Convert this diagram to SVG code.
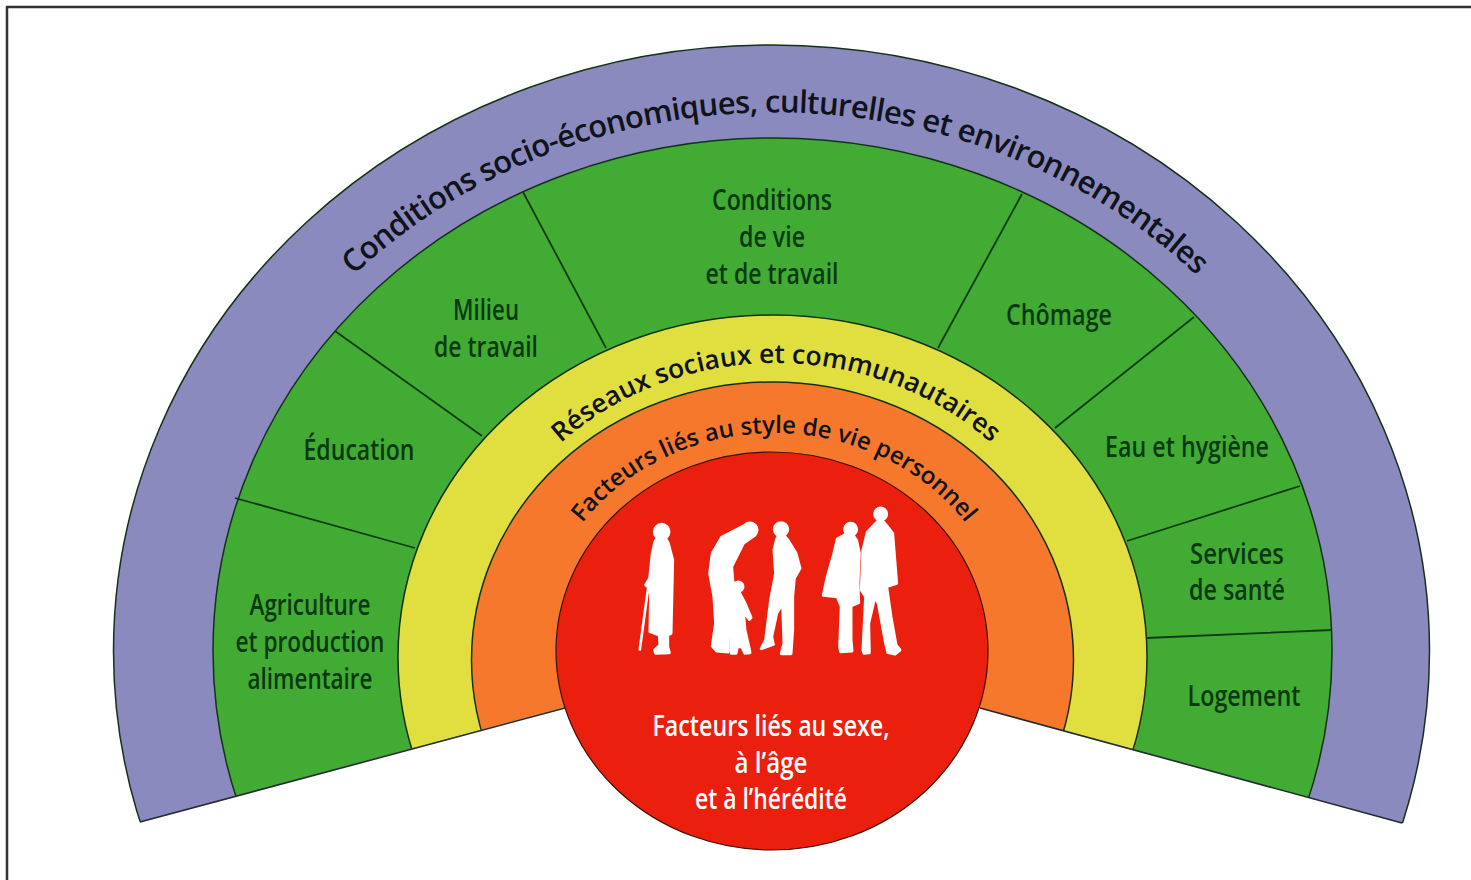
<svg xmlns="http://www.w3.org/2000/svg" width="1471" height="880" viewBox="0 0 1471 880">
<style>
.band{stroke:#16301a;stroke-width:1.5}
.div{stroke:#0f3a12;stroke-width:1.8;fill:none}
text{font-family:"Open Sans","Noto Sans","DejaVu Sans",sans-serif}
.g{fill:#0a3812;font-size:28px;font-weight:600;text-anchor:middle}
.c{fill:#10131a;font-weight:600;text-anchor:middle}
.w{fill:#fff;font-size:28px;font-weight:600;text-anchor:middle}
.s{fill:#fff;stroke:#fff;stroke-width:9;stroke-linejoin:round}
</style>
<defs>
<clipPath id="wedge"><path d="M0 860L772 651L1471 842V0H0Z"/></clipPath>
<path id="a1" d="M 187 651 A 585 536 0 0 1 1363 651"/>
<path id="a2" d="M 465 651 A 311 288 0 0 1 1087 651"/>
<path id="a3" d="M 537 651 A 237 218 0 0 1 1011 651"/>
</defs>
<rect width="1471" height="880" fill="#fff"/>
<path d="M7 880V7H1471" fill="none" stroke="#333" stroke-width="2.5"/>
<g clip-path="url(#wedge)">
<g id="band-outer"><ellipse class="band" fill="#8b8abf" cx="771.5" cy="651" rx="658" ry="606"/></g>
<g id="band-green"><ellipse class="band" fill="#42ab33" cx="772.5" cy="651" rx="559.5" ry="513"/></g>
<g id="band-yellow"><ellipse class="band" fill="#e0df3f" cx="772.5" cy="657" rx="374.5" ry="342"/></g>
<g id="band-orange"><ellipse class="band" fill="#f5782d" cx="772.5" cy="660" rx="301" ry="278"/></g>
</g>
<g id="connectors">
<path class="div" d="M235 498L415 548M335 331L482 436M523 192L606 348M1022 194L938 348M1194 317L1055 428M1300 486L1127 541M1332 630L1146 638"/>
<path stroke="#232a30" stroke-width="1.6" fill="none" d="M140 822L565 708M1402 823L980 708"/>
</g>
<g id="center"><ellipse cx="772" cy="651" rx="216" ry="199" fill="#ea1f0e" stroke="#3a120a" stroke-width="1.2"/>
<g id="people" transform="translate(600 490) scale(.3333)">
<g id="p1"><circle class="s" cx="185" cy="125" r="22"/><path class="s" d="M185 125L205 160L218 210L216 300L213 430L203 435L203 470L208 488L167 490L164 480L180 465L178 435L150 425L152 310L144 290L137 285L149 265L157 190L165 155Z"/><path d="M145 290L119 482" stroke="#fff" stroke-width="8" fill="none"/></g>
<g id="p2"><circle class="s" cx="450" cy="120" r="21"/><path class="s" d="M430 108L365 142L337 190L329 250L342 320L347 400L337 468L350 483L385 486L385 450L395 350L400 290L395 230L430 160L465 135Z"/><circle class="s" cx="415" cy="290" r="14"/><path class="s" d="M415 295L420 312L435 340L453 383L448 388L430 365L435 420L448 478L450 488L435 490L425 470L412 470L408 490L394 490L394 430L397 360L400 312Z"/></g>
<g id="p3"><circle class="s" cx="543" cy="118" r="20"/><path class="s" d="M543 125L565 152L588 190L600 235L583 265L578 320L578 420L573 491L544 491L552 460L548 340L530 370L515 440L520 463L484 476L497 450L512 330L527 250L522 180L530 147Z"/></g>
<g id="p4"><circle class="s" cx="752" cy="118" r="18"/><path class="s" d="M752 125L770 152L778 190L774 280L776 338L753 348L753 450L756 483L722 485L719 470L724 350L712 320L670 316L682 260L702 190L712 147Z"/></g>
<g id="p5"><circle class="s" cx="842" cy="72" r="18"/><path class="s" d="M842 85L860 107L878 130L890 280L860 290L873 380L888 465L900 480L885 492L864 488L857 460L835 340L825 320L806 400L808 488L792 490L789 480L797 320L784 300L789 180L802 127Z"/></g>
</g>
<text class="w" x="771" y="736" textLength="237" lengthAdjust="spacingAndGlyphs">Facteurs liés au sexe,</text>
<text class="w" x="771" y="773" textLength="73" lengthAdjust="spacingAndGlyphs">à l’âge</text>
<text class="w" x="771" y="809" textLength="152" lengthAdjust="spacingAndGlyphs">et à l’hérédité</text>
</g>
<g id="label-outer"><text class="c" font-size="31" letter-spacing="-.7"><textPath href="#a1" startOffset="50%">Conditions socio-économiques, culturelles et environnementales</textPath></text></g>
<g id="label-yellow"><text class="c" font-size="26.5"><textPath href="#a2" startOffset="50%">Réseaux sociaux et communautaires</textPath></text></g>
<g id="label-orange"><text class="c" font-size="24"><textPath href="#a3" startOffset="50%">Facteurs liés au style de vie personnel</textPath></text></g>
<g id="n-agri"><text class="g" x="310" y="615" textLength="121" lengthAdjust="spacingAndGlyphs">Agriculture</text><text class="g" x="310" y="652" textLength="149" lengthAdjust="spacingAndGlyphs">et production</text><text class="g" x="310" y="689" textLength="125" lengthAdjust="spacingAndGlyphs">alimentaire</text></g>
<g id="n-edu"><text class="g" x="359" y="460" textLength="111" lengthAdjust="spacingAndGlyphs">Éducation</text></g>
<g id="n-milieu"><text class="g" x="486" y="320" textLength="66" lengthAdjust="spacingAndGlyphs">Milieu</text><text class="g" x="486" y="357" textLength="104" lengthAdjust="spacingAndGlyphs">de travail</text></g>
<g id="n-cond"><text class="g" x="772" y="210" textLength="120" lengthAdjust="spacingAndGlyphs">Conditions</text><text class="g" x="772" y="247" textLength="66" lengthAdjust="spacingAndGlyphs">de vie</text><text class="g" x="772" y="284" textLength="133" lengthAdjust="spacingAndGlyphs">et de travail</text></g>
<g id="n-chom"><text class="g" x="1059" y="325" textLength="106" lengthAdjust="spacingAndGlyphs">Chômage</text></g>
<g id="n-eau"><text class="g" x="1187" y="457" textLength="164" lengthAdjust="spacingAndGlyphs">Eau et hygiène</text></g>
<g id="n-serv"><text class="g" x="1237" y="564" textLength="94" lengthAdjust="spacingAndGlyphs">Services</text><text class="g" x="1237" y="600" textLength="96" lengthAdjust="spacingAndGlyphs">de santé</text></g>
<g id="n-log"><text class="g" x="1244" y="706" textLength="113" lengthAdjust="spacingAndGlyphs">Logement</text></g>
</svg>
